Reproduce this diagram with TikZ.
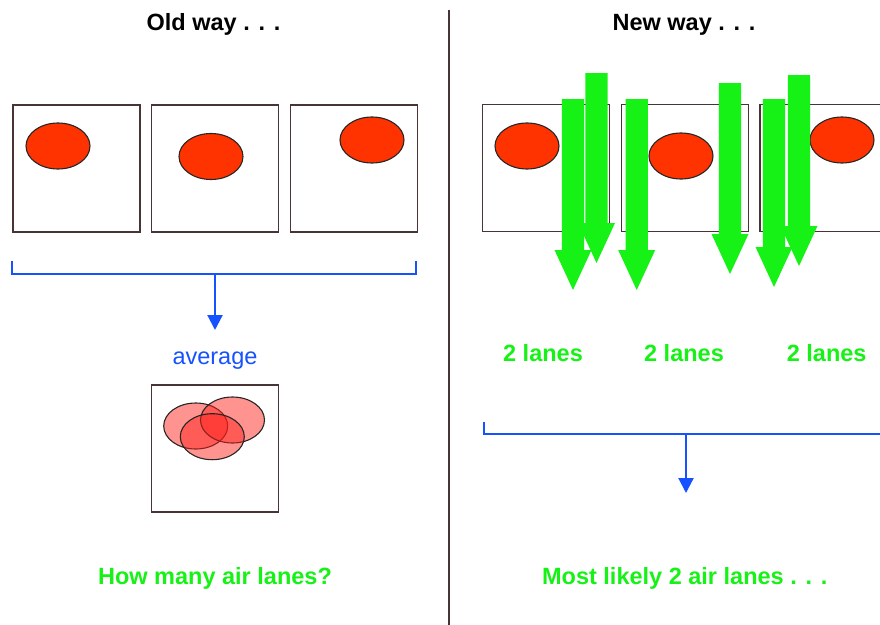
\documentclass[tikz,border=0pt]{standalone}
\usepackage{fontspec}
\setmainfont{Liberation Sans}
\usetikzlibrary{arrows.meta,shapes.geometric}
\definecolor{frame}{RGB}{72,52,52}
\definecolor{dotred}{RGB}{255,51,0}
\definecolor{ghostred}{RGB}{255,30,25}
\definecolor{lanegreen}{RGB}{22,242,22}
\definecolor{linkblue}{RGB}{22,82,255}
\tikzset{
  panel/.style={draw=frame,line width=1.5pt,fill=white,minimum width=127pt,minimum height=127pt,inner sep=0pt},
  dot/.style={ellipse,draw=black!85,line width=1.1pt,fill=dotred,minimum width=64pt,minimum height=46pt,inner sep=0pt},
  ghost/.style={ellipse,draw=black!85,line width=1.1pt,fill=ghostred,fill opacity=0.48,minimum width=64pt,minimum height=46pt,inner sep=0pt},
  heading/.style={font=\fontsize{23.5}{28}\selectfont\bfseries,anchor=base,inner sep=0pt},
  greentext/.style={font=\fontsize{23.5}{28}\selectfont\bfseries,text=lanegreen,anchor=base,inner sep=0pt},
  bluetext/.style={font=\fontsize{23.5}{28}\selectfont,text=linkblue,anchor=base,inner sep=0pt},
  bracket/.style={draw=linkblue,line width=2.2pt},
  link/.style={draw=linkblue,line width=2.2pt,-{Triangle[width=15pt,length=15pt]}},
}
% a fat downward arrow: centre x, top y, tip y
\newcommand{\lanearrow}[3]{%
  \fill[lanegreen] (#1-11.2,#2) -- (#1+11.2,#2) -- (#1+11.2,#3-40) -- (#1+18.5,#3-40)
    -- (#1,#3) -- (#1-18.5,#3-40) -- (#1-11.2,#3-40) -- cycle;}
\begin{document}
\begin{tikzpicture}[x=1pt,y=-1pt]
\useasboundingbox[fill=white] (0,0) rectangle (880,624);

% divider between the two halves
\draw[frame,line width=2pt] (449,10) coordinate (dtop) -- (449,630) coordinate (dbot);

% headings
\node[heading] (oldh) at (213.5,30) {Old way . . .};
\node[heading] (newh) at (684,30) {New way . . .};

% ---- old way ----
\node[panel] (b1) at (76.5,168.5) {};
\node[panel] (b2) at (215,168.5) {};
\node[panel] (b3) at (354.2,168.5) {};
\node[dot] (e1) at (58,146) {};
\node[dot] (e2) at (211,156.5) {};
\node[dot] (e3) at (372,140) {};

\coordinate (lbl) at (12.3,261);
\coordinate (lbr) at (416,261);
\coordinate (lmid) at (215,274);
\draw[bracket] (lbl) -- (12.3,274) -- (416,274) -- (lbr);
\node[bluetext] (avg) at (215,364) {average};
\coordinate (lend) at (215,330);
\draw[link] (lmid) -- (lend);

\node[panel] (avgbox) at (215,448.3) {};
\node[ghost] (g1) at (195.7,426) {};
\node[ghost] (g2) at (232.5,420) {};
\node[ghost] (g3) at (212.3,436.7) {};

\node[greentext] (q) at (215,584) {How many air lanes?};

% ---- new way ----
\node[panel] (n1) at (546,168) {};
\node[panel] (n2) at (685,168) {};
\node[panel] (n3) at (823.5,168) {};
\node[dot] (f1) at (527,146) {};
\node[dot] (f2) at (681,156) {};
\node[dot] (f3) at (842,140) {};

\lanearrow{573}{99}{290}
\lanearrow{596.5}{73}{263}
\lanearrow{636.7}{99}{290}
\lanearrow{730}{83}{274}
\lanearrow{774}{99}{287}
\lanearrow{799}{75}{266}

\node[greentext] (l1) at (543,361.5) {2 lanes};
\node[greentext] (l2) at (684,361.5) {2 lanes};
\node[greentext] (l3) at (826.7,361.5) {2 lanes};

\coordinate (rbl) at (484,422);
\coordinate (rmid) at (686,434);
\draw[bracket] (rbl) -- (484,434) -- (885,434);
\coordinate (rend) at (686,493);
\draw[link] (rmid) -- (rend);

\node[greentext] (a) at (684.7,584) {Most likely 2 air lanes . . .};
\end{tikzpicture}
\end{document}
